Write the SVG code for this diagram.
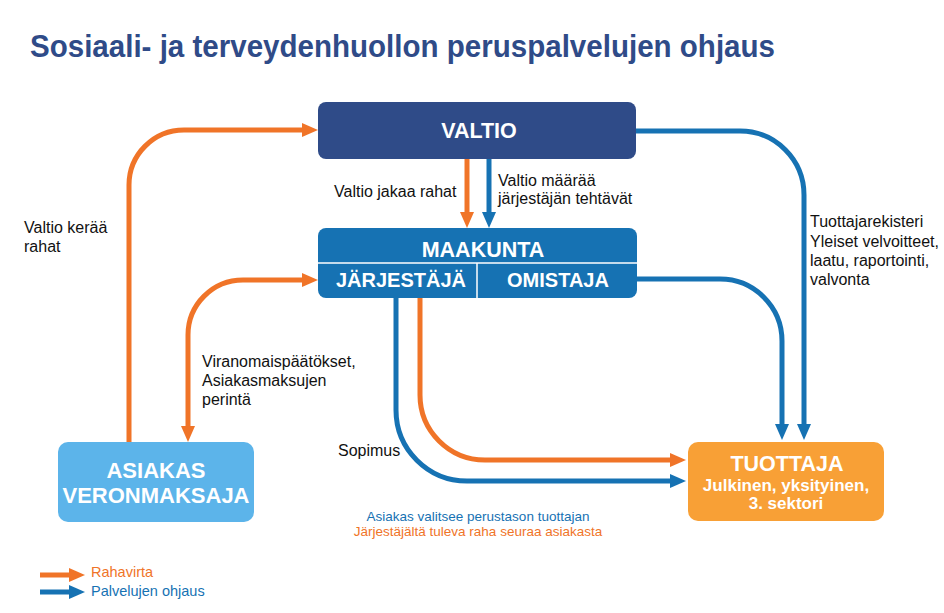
<svg xmlns="http://www.w3.org/2000/svg" width="944" height="613" viewBox="0 0 944 613">
<style>
.lbl{font-family:"Liberation Sans",Arial,sans-serif;font-size:16px;fill:#111}
.box{font-family:"Liberation Sans",Arial,sans-serif;font-weight:bold;fill:#fff;text-anchor:middle}
.o{fill:none;stroke:#F07428;stroke-width:5}
.b{fill:none;stroke:#1672B3;stroke-width:5}
</style>
<defs>
<marker id="ao" viewBox="0 0 16 14" refX="6" refY="7" markerWidth="16" markerHeight="14" markerUnits="userSpaceOnUse" orient="auto-start-reverse"><path d="M0,0 L16,7 L0,14 z" fill="#F07428"/></marker>
<marker id="ab" viewBox="0 0 16 14" refX="6" refY="7" markerWidth="16" markerHeight="14" markerUnits="userSpaceOnUse" orient="auto-start-reverse"><path d="M0,0 L16,7 L0,14 z" fill="#1672B3"/></marker>
</defs>
<rect width="944" height="613" fill="#fff"/>
<text x="30" y="57" font-family="'Liberation Sans',Arial,sans-serif" font-weight="bold" font-size="31" fill="#2F4B88" textLength="745" lengthAdjust="spacingAndGlyphs">Sosiaali- ja terveydenhuollon peruspalvelujen ohjaus</text>

<g id="connectors">
<path class="o" d="M129,442 V185 A55 55 0 0 1 184,130 H308" marker-end="url(#ao)"/>
<path class="o" d="M188,432 V335 A55 55 0 0 1 243,280 H308" marker-start="url(#ao)" marker-end="url(#ao)"/>
<path class="o" d="M467,159 V218" marker-end="url(#ao)"/>
<path class="b" d="M489,159 V218" marker-end="url(#ab)"/>
<path class="b" d="M636,131 H740 A64 64 0 0 1 804,195 V430" marker-end="url(#ab)"/>
<path class="b" d="M637,279 H720 A62 62 0 0 1 782,341 V430" marker-end="url(#ab)"/>
<path class="b" d="M396,298 V410 A71 71 0 0 0 467,481 H676" marker-end="url(#ab)"/>
<path class="o" d="M420,298 V395 A65 65 0 0 0 485,460 H676" marker-end="url(#ao)"/>
</g>

<g id="valtio">
<rect x="318" y="102" width="318" height="57" rx="8" fill="#2F4B88"/>
<text class="box" x="479" y="138" font-size="21.5">VALTIO</text>
</g>
<g id="maakunta">
<rect x="318" y="228" width="319" height="70" rx="8" fill="#1672B3"/>
<line x1="318" y1="263" x2="637" y2="263" stroke="#fff" stroke-width="1.5"/>
<line x1="477" y1="263" x2="477" y2="298" stroke="#fff" stroke-width="1.5"/>
<text class="box" x="483" y="257" font-size="21.5">MAAKUNTA</text>
<text class="box" x="401" y="287" font-size="20">JÄRJESTÄJÄ</text>
<text class="box" x="558" y="287" font-size="20">OMISTAJA</text>
</g>
<g id="asiakas">
<rect x="58" y="442" width="196" height="80" rx="10" fill="#5CB4EA"/>
<text class="box" x="156" y="478" font-size="22">ASIAKAS</text>
<text class="box" x="156" y="503" font-size="22">VERONMAKSAJA</text>
</g>
<g id="tuottaja">
<rect x="688" y="442" width="196" height="79" rx="10" fill="#F8A036"/>
<text class="box" x="787" y="471" font-size="21.5">TUOTTAJA</text>
<text class="box" x="786" y="491" font-size="17">Julkinen, yksityinen,</text>
<text class="box" x="786" y="509" font-size="17">3. sektori</text>
</g>

<g id="labels">
<text class="lbl" x="334" y="197">Valtio jakaa rahat</text>
<text class="lbl" x="498" y="186">Valtio määrää</text>
<text class="lbl" x="498" y="204">järjestäjän tehtävät</text>
<text class="lbl" x="24" y="233">Valtio kerää</text>
<text class="lbl" x="24" y="252">rahat</text>
<text class="lbl" x="202" y="367">Viranomaispäätökset,</text>
<text class="lbl" x="202" y="386">Asiakasmaksujen</text>
<text class="lbl" x="202" y="405">perintä</text>
<text class="lbl" x="810" y="227">Tuottajarekisteri</text>
<text class="lbl" x="810" y="247">Yleiset velvoitteet,</text>
<text class="lbl" x="810" y="266">laatu, raportointi,</text>
<text class="lbl" x="810" y="285">valvonta</text>
<text class="lbl" x="338" y="456">Sopimus</text>
<text x="478" y="521" font-family="'Liberation Sans',Arial,sans-serif" font-size="13.5" fill="#1672B3" text-anchor="middle">Asiakas valitsee perustason tuottajan</text>
<text x="478" y="536" font-family="'Liberation Sans',Arial,sans-serif" font-size="13.5" fill="#F07428" text-anchor="middle">Järjestäjältä tuleva raha seuraa asiakasta</text>
</g>

<g id="legend">
<path class="o" d="M40,575 H75" marker-end="url(#ao)"/>
<path class="b" d="M40,592 H75" marker-end="url(#ab)"/>
<text x="91" y="577" font-family="'Liberation Sans',Arial,sans-serif" font-size="14.5" fill="#F07428">Rahavirta</text>
<text x="91" y="596" font-family="'Liberation Sans',Arial,sans-serif" font-size="14.5" fill="#1672B3">Palvelujen ohjaus</text>
</g>
</svg>
